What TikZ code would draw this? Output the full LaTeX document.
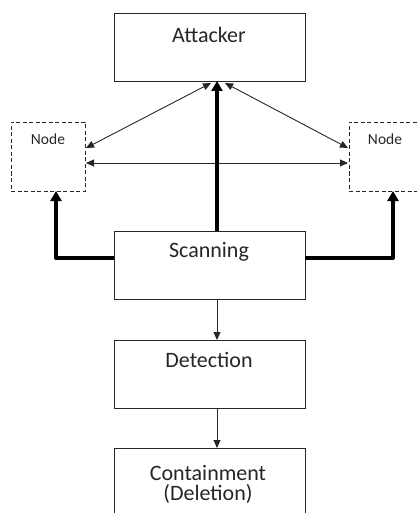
\documentclass[tikz,border=0pt]{standalone}
\usepackage{fontspec}
\setmainfont{Carlito}
\usetikzlibrary{arrows.meta}
\begin{document}
\begin{tikzpicture}[x=1pt,y=-1pt,
  box/.style={draw=black!85,line width=0.9pt,minimum width=191pt,minimum height=68pt,inner sep=0pt,outer sep=0pt,anchor=north west},
  nodebox/.style={draw=black!85,dash pattern=on 4pt off 2.5pt,line width=0.9pt,minimum width=74pt,minimum height=69pt,inner sep=0pt,outer sep=0pt,anchor=north west},
  big/.style={font=\fontsize{22}{26}\selectfont,inner sep=0pt,text=black!85},
  small/.style={font=\fontsize{15.5}{18}\selectfont,inner sep=0pt,text=black!85},
  thin/.style={line width=0.9pt,draw=black!85,-{Triangle[length=8pt,width=7pt]}},
  thinboth/.style={line width=0.9pt,draw=black!85,{Triangle[length=8pt,width=7pt]}-{Triangle[length=8pt,width=7pt]}},
  thick/.style={line width=4pt,draw=black,-{Triangle[length=10pt,width=11pt]}}]
\useasboundingbox (0,0) rectangle (416,513);
\node[box] (att) at (114,13) {};
\node[big] (attt) at (209,35) {Attacker};
\node[nodebox] (nl) at (11,122) {};
\node[small] (nlt) at (48,139) {Node};
\node[nodebox] (nr) at (349,122) {};
\node[small] (nrt) at (385,139) {Node};
\node[box] (scan) at (114,231) {};
\node[big] (scant) at (209,252) {Scanning};
\node[box] (det) at (114,340) {};
\node[big] (dett) at (209,360) {Detection};
\node[box] (cont) at (114,448) {};
\node[big] (contt) at (208,473) {Containment};
\node[big] (contt2) at (208,494) {(Deletion)};
\coordinate (a1) at (211,83);
\coordinate (a2) at (225,83);
\coordinate (l1) at (86,148);
\coordinate (r1) at (348,148);
\coordinate (l2) at (86,163);
\coordinate (r2) at (348,163);
\draw[thinboth] (a1) -- (l1);
\draw[thinboth] (a2) -- (r1);
\draw[thinboth] (l2) -- (r2);
\draw[thick] (scan.north -| 217,0) -- (att.south -| 217,0);
\coordinate (cl) at (56,258);
\coordinate (cr) at (393,258);
\draw[thick,line join=round] (scan.west |- cl) -- (cl) -- (nl.south -| cl);
\draw[thick,line join=round] (scan.east |- cr) -- (cr) -- (nr.south -| cr);
\draw[thin] (scan.south -| 217,0) -- (det.north -| 217,0);
\draw[thin] (det.south -| 217,0) -- (cont.north -| 217,0);
\end{tikzpicture}
\end{document}
